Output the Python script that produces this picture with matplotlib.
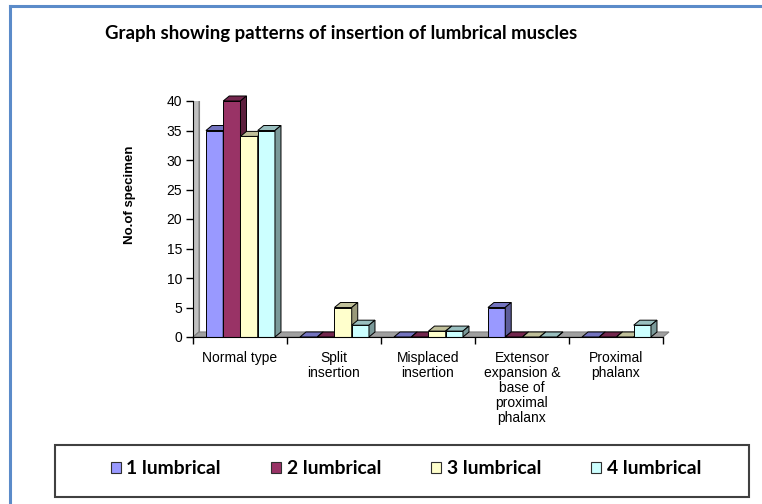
import matplotlib
matplotlib.use("Agg")
from matplotlib import pyplot
from matplotlib.patches import Polygon, Rectangle
from matplotlib.lines import Line2D
import numpy as np

categories = ['Normal type', 'Split\ninsertion', 'Misplaced\ninsertion',
              'Extensor\nexpansion &\nbase of\nproximal\nphalanx', 'Proximal\nphalanx']
series_names = ['1 lumbrical', '2 lumbrical', '3 lumbrical', '4 lumbrical']
lumbrical_1 = [35, 0, 0, 5, 0]
lumbrical_2 = [40, 0, 0, 0, 0]
lumbrical_3 = [34, 5, 1, 0, 0]
lumbrical_4 = [35, 2, 1, 0, 2]
series = [lumbrical_1, lumbrical_2, lumbrical_3, lumbrical_4]
colors = ['#9999FF', '#993366', '#FFFFCC', '#CCFFFF']

W, H = 762, 504
fig = pyplot.figure(figsize=(W / 100, H / 100), dpi=100)

# blue frame on left and top
fig.add_artist(Line2D([10 / W, 10 / W], [0, 1 - 6 / H], color='#5b8bc9', lw=2.2))
fig.add_artist(Line2D([10 / W, 1], [1 - 6 / H, 1 - 6 / H], color='#5b8bc9', lw=2.2))

fig.text(105 / W, 1 - 34 / H, 'Graph showing patterns of insertion of lumbrical muscles',
         fontfamily='Lato', fontweight='bold', fontsize=13.4, va='center', ha='left')

ax = fig.add_axes([193 / W, 1 - 337 / H, 470 / W, 236 / H])
ax.set_xlim(0, len(categories))
ax.set_ylim(0, 40)
ax.patch.set_visible(False)

dx, dy = 0.064, 0.85  # 3D depth in data units
n = len(categories)

def shade(c, f):
    rgb = np.array(matplotlib.colors.to_rgb(c))
    return tuple(rgb * f)

# walls and floor
ax.add_patch(Polygon([(dx, dy), (n + dx, dy), (n + dx, 40 + dy), (dx, 40 + dy)],
                     closed=True, facecolor='white', edgecolor='#808080', lw=0.8, zorder=0))
ax.add_patch(Polygon([(0, 0), (dx, dy), (dx, 40 + dy), (0, 40)],
                     closed=True, facecolor='#c0c0c0', edgecolor='#808080', lw=0.8, zorder=0.5))
ax.add_patch(Polygon([(0, 0), (n, 0), (n + dx, dy), (dx, dy)],
                     closed=True, facecolor='#a0a0a0', edgecolor='#808080', lw=0.8, zorder=0.5,
                     clip_on=False))

bw = 0.1835
start = 0.138
z = 1
for i in range(n):
    for j, vals in enumerate(series):
        x0 = i + start + j * bw
        v = vals[i]
        c = colors[j]
        ax.bar(x0, v, width=bw, align='edge', color=c, edgecolor='black', lw=0.7,
               zorder=z, clip_on=False)
        ax.add_patch(Polygon([(x0, v), (x0 + bw, v), (x0 + bw + dx, v + dy), (x0 + dx, v + dy)],
                             closed=True, facecolor=shade(c, 0.75), edgecolor='black', lw=0.7,
                             zorder=z, clip_on=False))
        ax.add_patch(Polygon([(x0 + bw, 0), (x0 + bw + dx, dy), (x0 + bw + dx, v + dy), (x0 + bw, v)],
                             closed=True, facecolor=shade(c, 0.6), edgecolor='black', lw=0.7,
                             zorder=z, clip_on=False))
        z += 1

for s in ['top', 'right']:
    ax.spines[s].set_visible(False)
ax.spines['left'].set_zorder(100)
ax.spines['bottom'].set_zorder(100)

ax.set_yticks(range(0, 41, 5))
ax.tick_params(axis='y', direction='out', length=5, width=1, labelsize=10, pad=3)
for t in ax.get_yticklabels():
    t.set_fontfamily('Liberation Sans')

ax.set_xticks(range(n + 1))
ax.set_xticklabels([''] * (n + 1))
ax.set_xticks(np.arange(n) + 0.5, minor=True)
ax.set_xticklabels(categories, minor=True, fontfamily='Liberation Sans', fontsize=10,
                   linespacing=1.1, va='top')
ax.tick_params(axis='x', which='major', direction='out', length=5, width=1)
ax.tick_params(axis='x', which='minor', length=0, pad=10)

fig.text(130 / W, 1 - 195 / H, 'No.of specimen', rotation=90, fontfamily='Liberation Sans',
         fontweight='bold', fontsize=9.5, ha='center', va='center')

# legend
fig.add_artist(Rectangle((55 / W, 1 - 497 / H), 694 / W, 52 / H, transform=fig.transFigure,
                         facecolor='none', edgecolor='#404040', lw=1.5))
handles = [Rectangle((0, 0), 1, 1, facecolor=c, edgecolor='#303030', lw=0.8) for c in colors]
leg = fig.legend(handles, series_names, loc='center', bbox_to_anchor=(406 / W, 1 - 469 / H),
                 ncol=4, frameon=False, handlelength=0.5, handleheight=0.5, handletextpad=0.3,
                 columnspacing=2.6, prop={'family': 'Lato', 'weight': 'bold', 'size': 13.9})

fig.savefig('out.png', dpi=100)
